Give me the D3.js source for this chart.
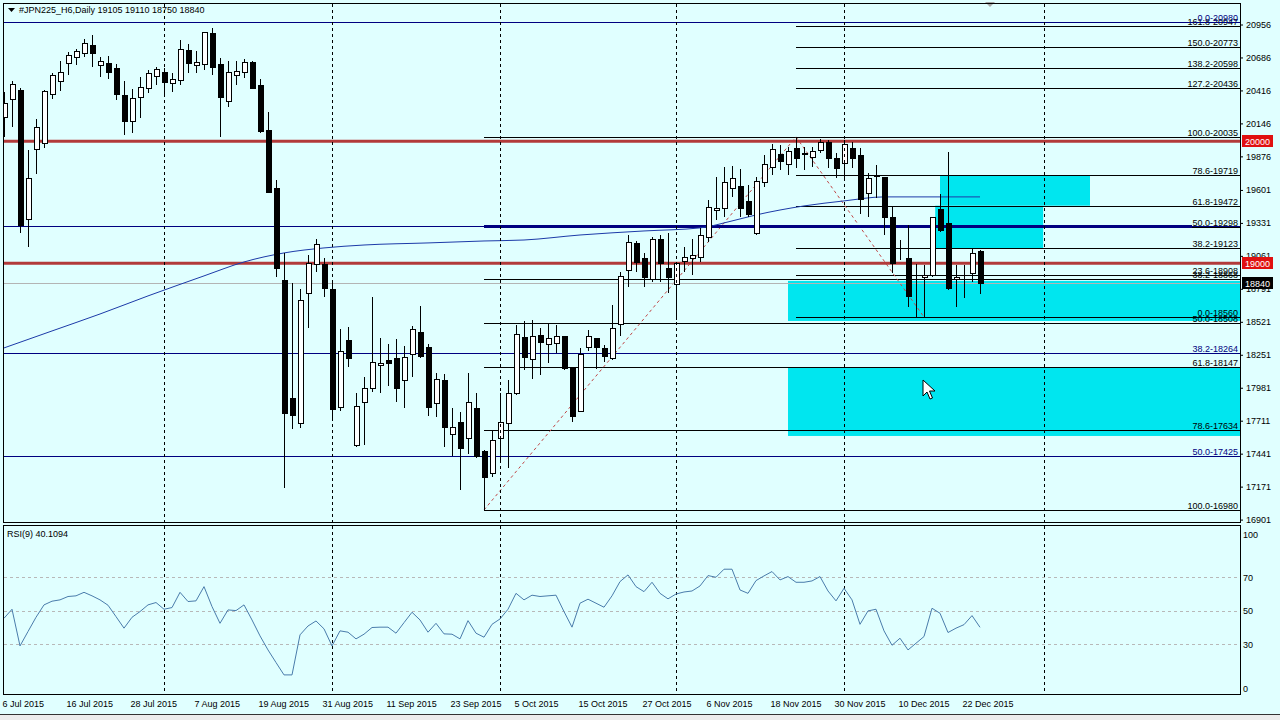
<!DOCTYPE html>
<html>
<head>
<meta charset="utf-8">
<script src="https://cdn.jsdelivr.net/npm/d3@7"></script>
<style>
  body { margin: 0; background: #e0ffff; }
  svg { display: block; }
  text { font-family: 'Liberation Sans', Arial, sans-serif; font-size: 9px; fill: #000; }
</style>
</head>
<body>
<svg id="chart" width="1280" height="720"></svg>
<script>
// daily bars, 6 Jul 2015 .. 24 Dec 2015
const opens = [20199,20346,20420,19363,19937,19986,20387,20494,20641,20690,20723,20788,20625,20641,20600,20379,20166,20363,20436,20535,
  20567,20477,20502,20747,20625,20633,20887,20633,20330,20543,20567,20649,20461,20092,19617,18864,17897,17693,18757,18995,
  18995,18790,17824,18372,17512,17865,17979,18168,18209,18225,18045,18258,18438,18315,17856,18045,17602,17701,17570,17815,
  17463,17283,17570,17693,17938,18397,18217,18413,18340,18348,18405,18143,17791,18315,18389,18307,18225,18503,18946,19167,
  19044,18872,19200,18962,18831,19019,19044,19052,19216,19437,19453,19617,19634,19511,19249,19666,19789,19896,19814,19945,
  19896,19871,19929,19994,19863,19822,19945,19888,19576,19716,19707,19380,19085,19044,18798,18888,18905,19445,19331,18872,
  18929,18921,19105];
const highs = [20403,20494,20436,19929,20182,20420,20559,20657,20731,20756,20838,20870,20690,20698,20633,20494,20428,20526,20584,20608,
  20600,20559,20829,20797,20739,20895,20928,20682,20657,20657,20674,20657,20510,20240,19683,19085,18839,18790,19069,19200,
  19044,18839,18462,18479,17938,18069,18725,18389,18340,18381,18323,18487,18651,18340,18102,18094,17815,17783,18102,17938,
  17471,17627,17938,18045,18495,18528,18536,18471,18512,18495,18405,18143,18307,18454,18389,18331,18659,18929,19232,19183,
  19085,19216,19232,19249,19011,19134,19200,19290,19519,19707,19789,19797,19773,19642,19707,19888,19978,19969,19953,20035,
  19953,19953,20019,20010,19904,20010,19994,19945,19740,19806,19707,19462,19191,19314,18995,18987,19380,19568,19912,18987,
  18987,19126,19110];
const lows = [20035,20117,19249,19134,19732,19945,20346,20412,20543,20625,20690,20608,20526,20510,20338,20051,20068,20191,20395,20461,
  20379,20403,20461,20559,20559,20584,20543,20035,20281,20461,20518,20428,20068,19576,18888,17160,17643,17652,18471,18929,
  18725,17734,17791,18151,17496,17512,17946,17938,17996,17865,17815,18069,18225,17750,17742,17496,17422,17144,17439,17406,
  16980,17250,17390,17324,17922,18127,18053,18086,18184,18266,18127,17701,17783,18282,18135,18192,18209,18405,18806,18929,
  18806,18847,18847,18757,18536,18929,18905,19011,19175,19355,19380,19544,19380,19380,19232,19625,19724,19765,19724,19781,
  19765,19789,19904,19781,19699,19699,19781,19404,19380,19535,19232,18921,19028,18643,18553,18553,18888,19257,18782,18643,
  18716,18847,18750];
const closes = [20313,20469,19314,19699,20117,20412,20543,20567,20707,20739,20805,20723,20657,20567,20387,20166,20354,20444,20559,20592,
  20485,20510,20756,20641,20649,20895,20608,20363,20567,20575,20649,20436,20084,19584,18962,17775,17758,18700,19003,19159,
  18798,17807,18282,18225,17832,17979,18192,18184,18184,17979,18233,18462,18241,17824,18053,17660,17660,17488,17865,17422,
  17250,17553,17701,17938,18421,18233,18405,18356,18389,18405,18143,17750,18258,18405,18315,18241,18471,18897,19175,19011,
  18888,19200,19003,18888,19003,19052,19068,19232,19462,19453,19666,19699,19453,19404,19675,19814,19937,19838,19920,19863,
  19904,19920,19994,19863,19781,19978,19863,19527,19699,19724,19380,19003,19085,18733,18798,18905,19380,19273,18798,18888,
  18929,19085,18840];

// RSI(9), one value per bar
const rsi = [45.5,50.9,29.0,37.6,46.1,53.5,55.7,56.5,58.5,58.9,61.0,58.9,56.5,53.3,46.5,39.6,46.1,49.5,53.5,54.9,
  50.9,51.9,61.0,55.5,55.9,64.4,52.5,42.5,50.5,50.1,53.5,44.5,35.0,26.6,19.1,11.7,11.7,35.6,40.9,43.9,
  39.2,29.0,38.0,37.2,33.2,36.0,40.0,40.2,40.2,36.6,42.9,49.1,44.5,37.2,42.5,36.2,36.0,33.2,44.1,36.6,
  34.2,41.9,45.1,50.9,60.4,56.5,59.3,58.5,58.9,59.3,49.5,40.2,54.5,56.9,54.5,52.1,58.9,67.4,71.4,64.4,
  61.4,67.0,60.4,57.1,60.0,61.2,61.8,64.8,71.0,70.0,74.8,74.8,62.4,60.4,68.0,70.8,73.4,68.4,70.4,67.0,
  67.0,67.8,70.4,61.8,55.9,63.4,56.5,41.9,49.9,50.9,38.0,29.4,33.6,26.6,30.6,34.6,51.5,48.5,37.0,39.6,
  41.7,47.1,40.1094];

// moving average read at some bars
const maBars = [0,6,12,18,25,30,35,40,45,53,60,65,72,80,87,91,94,100,105,110,122];
const maValues = [18307,18446,18585,18733,18897,19011,19085,19126,19150,19167,19183,19191,19232,19265,19290,19347,19396,19470,19511,19544,19544];

const dateLabels = ['6 Jul 2015','16 Jul 2015','28 Jul 2015','7 Aug 2015','19 Aug 2015','31 Aug 2015','11 Sep 2015','23 Sep 2015',
  '5 Oct 2015','15 Oct 2015','27 Oct 2015','6 Nov 2015','18 Nov 2015','30 Nov 2015','10 Dec 2015','22 Dec 2015'];
const dateBars = [0,8,16,24,32,40,48,56,64,72,80,88,96,104,112,120];
const monthBars = [20,41,62,84,105,130];

const priceTicks = [20956,20686,20416,20146,19876,19601,19331,19061,18791,18521,18251,17981,17711,17441,17171,16901];
const rsiTicks = [100,70,50,30,0];
const rsiLevels = [70,50,30];

const redLevels = [20000, 19000];
const bidPrice = 18840;

// fibonacci objects: 0% price at bar0, 100% price at bar100
const fibs = [
  { bar0: 99, bar100: 60, p0: 20035, p100: 16980, levels: [0,38.2,50,61.8,78.6,100], hide: [0], color: '#000', trend: true },
  { bar0: 115, bar100: 99, p0: 18560, p100: 20035, levels: [0,23.6,38.2,50,61.8,78.6,100,127.2,138.2,150,161.8], color: '#000', trend: true },
  { bar0: -30, bar100: -20, p0: 20980, p100: 13870, levels: [0,23.6,38.2,50], hide: [23.6], color: '#000080', trend: false }
];
const trendLines = [{ from: 60, to: 148.5, price: 19302 }];

// cyan rectangles
const zoneFrom = [117, 116.4, 98, 98];
const zoneTo = [135.75, 129.9, 160, 160];
const zoneLow = [19472, 19123, 18528, 17586];
const zoneHigh = [19719, 19472, 18856, 18143];

const svg = d3.select('#chart');
const x = d3.scaleLinear().domain([0, 1]).range([4, 12]);
const y = d3.scaleLinear().domain([16901, 20956]).range([519.6, 24.5]);
const ry = d3.scaleLinear().domain([0, 100]).range([694.5, 527]);
const L = 4, R = 1240, T = 4, B = 522, RT = 526, RB = 694;

svg.append('rect').attr('width', 1280).attr('height', 720).attr('fill', '#e0ffff');

const defs = svg.append('defs');
defs.append('clipPath').attr('id', 'main').append('rect')
  .attr('x', L).attr('y', T).attr('width', R - L).attr('height', B - T);
defs.append('clipPath').attr('id', 'sub').append('rect')
  .attr('x', L).attr('y', RT).attr('width', R - L).attr('height', RB - RT);

const main = svg.append('g').attr('clip-path', 'url(#main)');

// zones
main.selectAll('rect.zone').data(zoneFrom).join('rect')
  .attr('class', 'zone')
  .attr('x', (d) => x(d))
  .attr('width', (d, i) => x(zoneTo[i]) - x(d))
  .attr('y', (d, i) => y(zoneHigh[i]))
  .attr('height', (d, i) => y(zoneLow[i]) - y(zoneHigh[i]))
  .attr('fill', '#00e6ef');

// month separators
[[T, B], [RT, RB]].forEach(([a, b]) => {
  svg.append('g').selectAll('line').data(monthBars).join('line')
    .attr('x1', (d) => x(d) + 0.5).attr('x2', (d) => x(d) + 0.5)
    .attr('y1', a).attr('y2', b)
    .attr('stroke', '#000').attr('stroke-dasharray', '3,3');
});

// fib levels
fibs.forEach((f) => {
  const start = Math.min(f.bar0, f.bar100);
  f.levels.forEach((lv) => {
    const p = f.p0 + (f.p100 - f.p0) * lv / 100;
    const yy = Math.round(y(p)) + 0.5;
    main.append('line')
      .attr('x1', x(start)).attr('x2', R).attr('y1', yy).attr('y2', yy)
      .attr('stroke', f.color);
    if (!(f.hide || []).includes(lv)) {
      main.append('text')
        .attr('x', R - 2).attr('y', yy - 2)
        .attr('text-anchor', 'end')
        .style('fill', f.color)
        .text(`${lv.toFixed(1)}-${Math.round(p)}`);
    }
  });
  if (f.trend) {
    main.append('line')
      .attr('x1', x(f.bar100)).attr('y1', y(f.p100))
      .attr('x2', x(f.bar0)).attr('y2', y(f.p0))
      .attr('stroke', '#c04848').attr('stroke-dasharray', '3,3');
  }
});

trendLines.forEach((t) => {
  main.append('line')
    .attr('x1', x(t.from)).attr('x2', x(t.to))
    .attr('y1', y(t.price)).attr('y2', y(t.price))
    .attr('stroke', '#000080').attr('stroke-width', 3);
});

// bid line and red levels
main.append('line').attr('x1', L).attr('x2', R)
  .attr('y1', Math.round(y(bidPrice)) + 0.5).attr('y2', Math.round(y(bidPrice)) + 0.5)
  .attr('stroke', '#b4b4b4');
main.selectAll('line.red').data(redLevels).join('line')
  .attr('class', 'red')
  .attr('x1', L).attr('x2', R)
  .attr('y1', (d) => y(d)).attr('y2', (d) => y(d))
  .attr('stroke', '#b23a3a').attr('stroke-width', 3);

// moving average
main.append('path')
  .datum(maBars.map((b, i) => [b, maValues[i]]))
  .attr('fill', 'none').attr('stroke', '#1c3aa8').attr('stroke-width', 1)
  .attr('d', d3.line().x((d) => x(d[0])).y((d) => y(d[1])).curve(d3.curveMonotoneX));

// candles
const bars = opens.map((o, i) => ({ i, o, h: highs[i], l: lows[i], c: closes[i] }));
const cg = main.append('g');
cg.selectAll('line').data(bars).join('line')
  .attr('x1', (d) => x(d.i) + 0.5).attr('x2', (d) => x(d.i) + 0.5)
  .attr('y1', (d) => Math.round(y(d.h))).attr('y2', (d) => Math.round(y(d.l)))
  .attr('stroke', '#000');
cg.selectAll('rect').data(bars).join('rect')
  .attr('x', (d) => x(d.i) - 2 + 0.5)
  .attr('width', 5)
  .attr('y', (d) => Math.round(y(Math.max(d.o, d.c))) + 0.5)
  .attr('height', (d) => Math.max(0, Math.round(y(Math.min(d.o, d.c))) - Math.round(y(Math.max(d.o, d.c)))))
  .attr('fill', (d) => (d.c >= d.o ? '#fff' : '#000'))
  .attr('stroke', '#000');

// cursor and top marker
svg.append('path')
  .attr('d', 'M923,380 L923,396 L927,392 L930,399 L932.5,398 L929.5,391 L935,391 Z')
  .attr('fill', '#fff').attr('stroke', '#000');
svg.append('path').attr('d', 'M985,2 L995,2 L990,7 Z').attr('fill', '#a8a8a8');

// frames
svg.append('rect').attr('x', 3.5).attr('y', 3.5).attr('width', R - 3).attr('height', B - 3)
  .attr('fill', 'none').attr('stroke', '#000');
svg.append('rect').attr('x', 3.5).attr('y', RT - 0.5).attr('width', R - 3).attr('height', RB - RT + 1)
  .attr('fill', 'none').attr('stroke', '#000');
svg.append('line').attr('x1', 0).attr('x2', 1280).attr('y1', 714.5).attr('y2', 714.5).attr('stroke', '#333');
svg.append('rect').attr('x', 0).attr('y', 715).attr('width', 1280).attr('height', 5).attr('fill', '#ececec');

// price axis
const pAxis = svg.append('g').attr('transform', `translate(${R},0)`)
  .call(d3.axisRight(y).tickValues(priceTicks).tickSize(3).tickPadding(3).tickFormat(d3.format('d')));
pAxis.select('.domain').remove();
pAxis.attr('font-family', null).attr('font-size', null);

// price tags
const tags = redLevels.map((p) => ({ p, fill: '#e01010' })).concat([{ p: bidPrice, fill: '#000' }]);
const tg = svg.append('g').selectAll('g').data(tags).join('g')
  .attr('transform', (d) => `translate(${R + 2},${Math.round(y(d.p))})`);
tg.append('rect').attr('x', 0).attr('y', -6).attr('width', 31).attr('height', 12).attr('fill', (d) => d.fill);
tg.append('text').attr('x', 3).attr('y', 3.5).style('fill', '#fff').text((d) => d.p);

// rsi panel
const sub = svg.append('g').attr('clip-path', 'url(#sub)');
sub.selectAll('line.lvl').data(rsiLevels).join('line')
  .attr('class', 'lvl')
  .attr('x1', L).attr('x2', R)
  .attr('y1', (d) => Math.round(ry(d)) + 0.5).attr('y2', (d) => Math.round(ry(d)) + 0.5)
  .attr('stroke', '#b8b8b8').attr('stroke-dasharray', '3,3');
sub.append('path')
  .datum(rsi)
  .attr('fill', 'none').attr('stroke', '#4a7cab').attr('stroke-width', 1)
  .attr('d', d3.line().x((d, i) => x(i)).y((d) => ry(d)));

svg.append('g').selectAll('text').data(rsiTicks).join('text')
  .attr('x', R + 3)
  .attr('y', (d) => Math.min(Math.max(ry(d), 534), 688) + 3.5)
  .text((d) => d);

svg.append('text').attr('x', 7).attr('y', 537).text(`RSI(9) ${rsi[rsi.length - 1]}`);

// date axis
const dAxis = svg.append('g').attr('transform', `translate(0,${RB})`)
  .call(d3.axisBottom(x).tickValues(dateBars).tickSize(0).tickPadding(0)
    .tickFormat((d, i) => dateLabels[i]));
dAxis.select('.domain').remove();
dAxis.attr('font-family', null).attr('font-size', null);
dAxis.selectAll('text').attr('text-anchor', 'start').attr('dx', -2).attr('dy', 0).attr('y', 13);

// header
svg.append('path').attr('d', 'M8,8 L15,8 L11.5,12 Z').attr('fill', '#000');
svg.append('text').attr('x', 19).attr('y', 13)
  .text(`#JPN225_H6,Daily  ${opens[122]} ${highs[122]} ${lows[122]} ${closes[122]}`);
</script>
</body>
</html>
